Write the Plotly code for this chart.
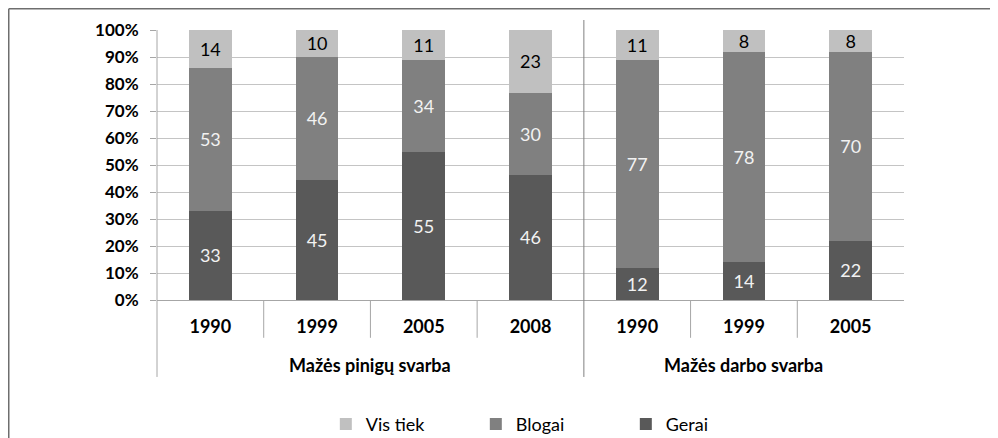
import plotly.graph_objects as go

groups = ["Mažės pinigų svarba", "Mažės pinigų svarba", "Mažės pinigų svarba", "Mažės pinigų svarba",
          "Mažės darbo svarba", "Mažės darbo svarba", "Mažės darbo svarba"]
years = ["1990", "1999", "2005", "2008", "1990", "1999", "2005"]
gerai = [33, 45, 55, 46, 12, 14, 22]
blogai = [53, 46, 34, 30, 77, 78, 70]
vis_tiek = [14, 10, 11, 23, 11, 8, 8]
y_ticks = [0, 10, 20, 30, 40, 50, 60, 70, 80, 90, 100]

FONT = "Lato"
xs = list(range(len(years)))

fig = go.Figure()
series = [("Gerai", gerai, "#595959", "#f2f2f2"),
          ("Blogai", blogai, "#808080", "#f2f2f2"),
          ("Vis tiek", vis_tiek, "#c0c0c0", "#000000")]
for name, vals, col, tcol in series:
    fig.add_trace(go.Bar(
        x=xs, y=vals, name=name, width=0.4,
        marker=dict(color=col, line=dict(width=0)),
        text=[str(v) for v in vals], textposition="inside",
        insidetextanchor="middle", textangle=0, constraintext="none",
        textfont=dict(family=FONT, size=18, color=tcol),
    ))

# plot area: 747 x 270 px; figure origin is offset by the page's 8px body margin
L, T, PW, PH = 149, 22, 747, 270

def px_x(fx):
    return (fx - L) / PW

def px_y(fy):
    return (T + PH - fy) / PH

shapes = []
line_col = "#a6a6a6"
for i in range(len(years) - 1):
    if groups[i] == groups[i + 1]:
        shapes.append(dict(type="line", xref="x", yref="paper", x0=i + 0.5, x1=i + 0.5,
                           y0=0, y1=-0.14, line=dict(color=line_col, width=1)))
    else:
        shapes.append(dict(type="line", xref="x", yref="paper", x0=i + 0.5, x1=i + 0.5,
                           y0=1.037, y1=-0.285, line=dict(color="#808080", width=1)))
shapes.append(dict(type="line", xref="paper", yref="paper", x0=0, x1=0, y0=1, y1=-0.285,
                   line=dict(color=line_col, width=1)))
# outer border
shapes.append(dict(type="line", xref="paper", yref="paper", x0=px_x(0.75), x1=px_x(1000),
                   y0=px_y(0.75), y1=px_y(0.75), line=dict(color="#6e6e6e", width=1.5)))
shapes.append(dict(type="line", xref="paper", yref="paper", x0=px_x(0.75), x1=px_x(0.75),
                   y0=px_y(0.75), y1=px_y(440), line=dict(color="#6e6e6e", width=1.5)))

annotations = []
seen = []
for g in groups:
    if g not in seen:
        seen.append(g)
for g in seen:
    idx = [i for i, gg in enumerate(groups) if gg == g]
    annotations.append(dict(x=(idx[0] + idx[-1]) / 2, y=-0.24, xref="x", yref="paper",
                            text="<b>%s</b>" % g, showarrow=False,
                            font=dict(family=FONT, size=18, color="#000000"),
                            xanchor="center", yanchor="middle"))

fig.update_layout(
    width=998, height=438,
    margin=dict(l=L, r=998 - L - PW, t=T, b=438 - T - PH, autoexpand=False),
    paper_bgcolor="white", plot_bgcolor="white",
    barmode="stack", barnorm="percent",
    showlegend=True,
    legend=dict(orientation="h", x=0.226, y=-0.46, xanchor="left", yanchor="middle",
                traceorder="reversed", entrywidth=105, entrywidthmode="pixels",
                font=dict(family=FONT, size=18, color="#000000"),
                itemclick=False),
    shapes=shapes, annotations=annotations,
    xaxis=dict(range=[-0.5, len(years) - 0.5], tickmode="array", tickvals=xs,
               ticktext=["<b>%s</b>" % y for y in years], showgrid=False, zeroline=False,
               showline=True, linecolor="#a6a6a6", ticks="", ticklabelstandoff=10,
               tickfont=dict(family=FONT, size=18, color="#000000")),
    yaxis=dict(range=[0, 100], tickmode="array", tickvals=y_ticks,
               ticktext=["<b>%d%%</b>" % v for v in y_ticks], showgrid=True,
               gridcolor="#c4c4c4", gridwidth=1, zeroline=False, showline=False,
               ticks="outside", ticklen=6, tickcolor="#a6a6a6", ticklabelstandoff=8,
               tickfont=dict(family=FONT, size=17, color="#000000")),
    font=dict(family=FONT),
)

fig.write_html("out.html")
